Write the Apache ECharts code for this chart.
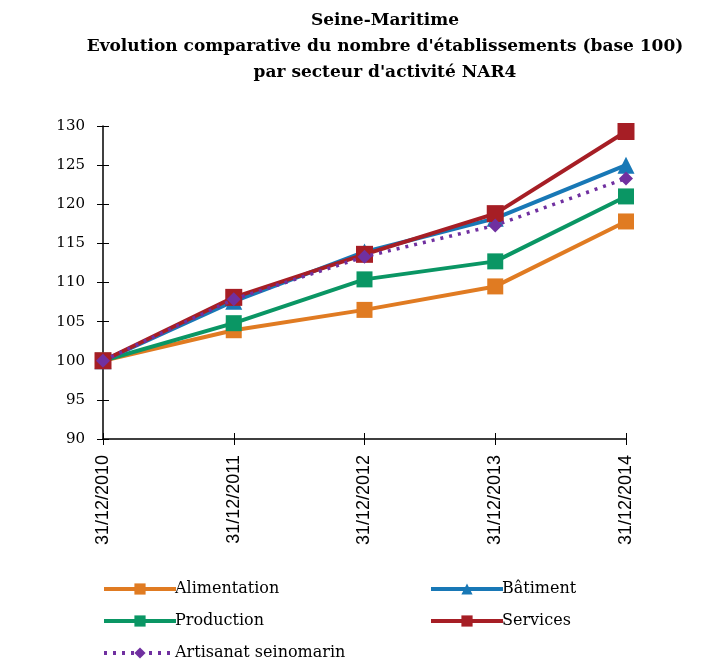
<!DOCTYPE html>
<html><head><meta charset="utf-8">
<script src="https://cdn.jsdelivr.net/npm/echarts@6/dist/echarts.min.js"></script>
<style>html,body{margin:0;padding:0;background:#fff}#c{width:702px;height:660px}</style>
</head><body><div id="c"></div>
<script>
const categories = ['31/12/2010','31/12/2011','31/12/2012','31/12/2013','31/12/2014'];
const alimentation = [100, 103.9, 106.5, 109.5, 117.8];
const batiment = [100, 107.6, 113.9, 118.2, 125.0];
const production = [100, 104.8, 110.4, 112.7, 121.0];
const services = [100, 108.1, 113.6, 118.8, 129.3];
const artisanat = [100, 107.85, 113.3, 117.3, 123.3];
const titleText = "Seine-Maritime\nEvolution comparative du nombre d'établissements (base 100)\npar secteur d'activité NAR4";

const chart = echarts.init(document.getElementById('c'));
const serif = 'DejaVu Serif';
function sq(name, data, color, symbol, size, z) {
  return {name, type:'line', data, symbol, symbolSize:size, z,
    lineStyle:{color, width:4}, itemStyle:{color}, emphasis:{disabled:true}};
}
const legendCommon = {orient:'vertical', itemWidth:72, itemHeight:14, itemGap:16, height:120,
  lineStyle:{width:4}, textStyle:{fontFamily:serif, fontSize:16, color:'#000', padding:[0,0,0,-6]}};
chart.setOption({
  animation:false,
  title:{text:titleText, left:380, top:3, textAlign:'center',
    textStyle:{fontFamily:serif, fontWeight:'bold', fontSize:17, lineHeight:26, color:'#000'}},
  grid:{left:103, right:76, top:126, bottom:221},
  xAxis:[{type:'category', data:categories, boundaryGap:false,
    axisLine:{lineStyle:{color:'#000', width:1.5}},
    axisTick:{show:true, length:6, lineStyle:{color:'#000'}, alignWithLabel:true},
    axisLabel:{rotate:90, color:'#000', fontFamily:'Liberation Sans', fontSize:18, margin:16}},
    {type:'category', data:categories, boundaryGap:false, position:'bottom',
    axisLine:{show:false}, axisLabel:{show:false},
    axisTick:{show:true, inside:true, length:6, lineStyle:{color:'#000'}, alignWithLabel:true}}],
  yAxis:[{type:'value', min:90, max:130, interval:5,
    axisLine:{show:true, lineStyle:{color:'#000', width:1.5}},
    axisTick:{show:true, length:6, lineStyle:{color:'#000'}},
    splitLine:{show:false},
    axisLabel:{color:'#000', fontFamily:serif, fontSize:15, margin:18}},
    {type:'value', min:90, max:130, interval:5, position:'left',
    axisLine:{show:false}, splitLine:{show:false}, axisLabel:{show:false},
    axisTick:{show:true, inside:true, length:6, lineStyle:{color:'#000'}}}],
  legend:[
    Object.assign({data:['Alimentation','Production','Artisanat seinomarin'], left:97, top:576}, legendCommon),
    Object.assign({data:['Bâtiment','Services'], left:424, top:576}, legendCommon)
  ],
  series:[
    sq('Alimentation', alimentation, '#E07B22', 'rect', 16, 2),
    sq('Production', production, '#0A9664', 'rect', 16, 3),
    sq('Bâtiment', batiment, '#1878B6', 'triangle', 17, 4),
    sq('Services', services, '#A61E25', 'rect', 17, 5),
    {name:'Artisanat seinomarin', type:'line', data:artisanat, symbol:'diamond', symbolSize:14, z:6,
      lineStyle:{color:'#7030A0', width:3.5, type:[3,6]}, itemStyle:{color:'#7030A0'}}
  ]
});
</script></body></html>
